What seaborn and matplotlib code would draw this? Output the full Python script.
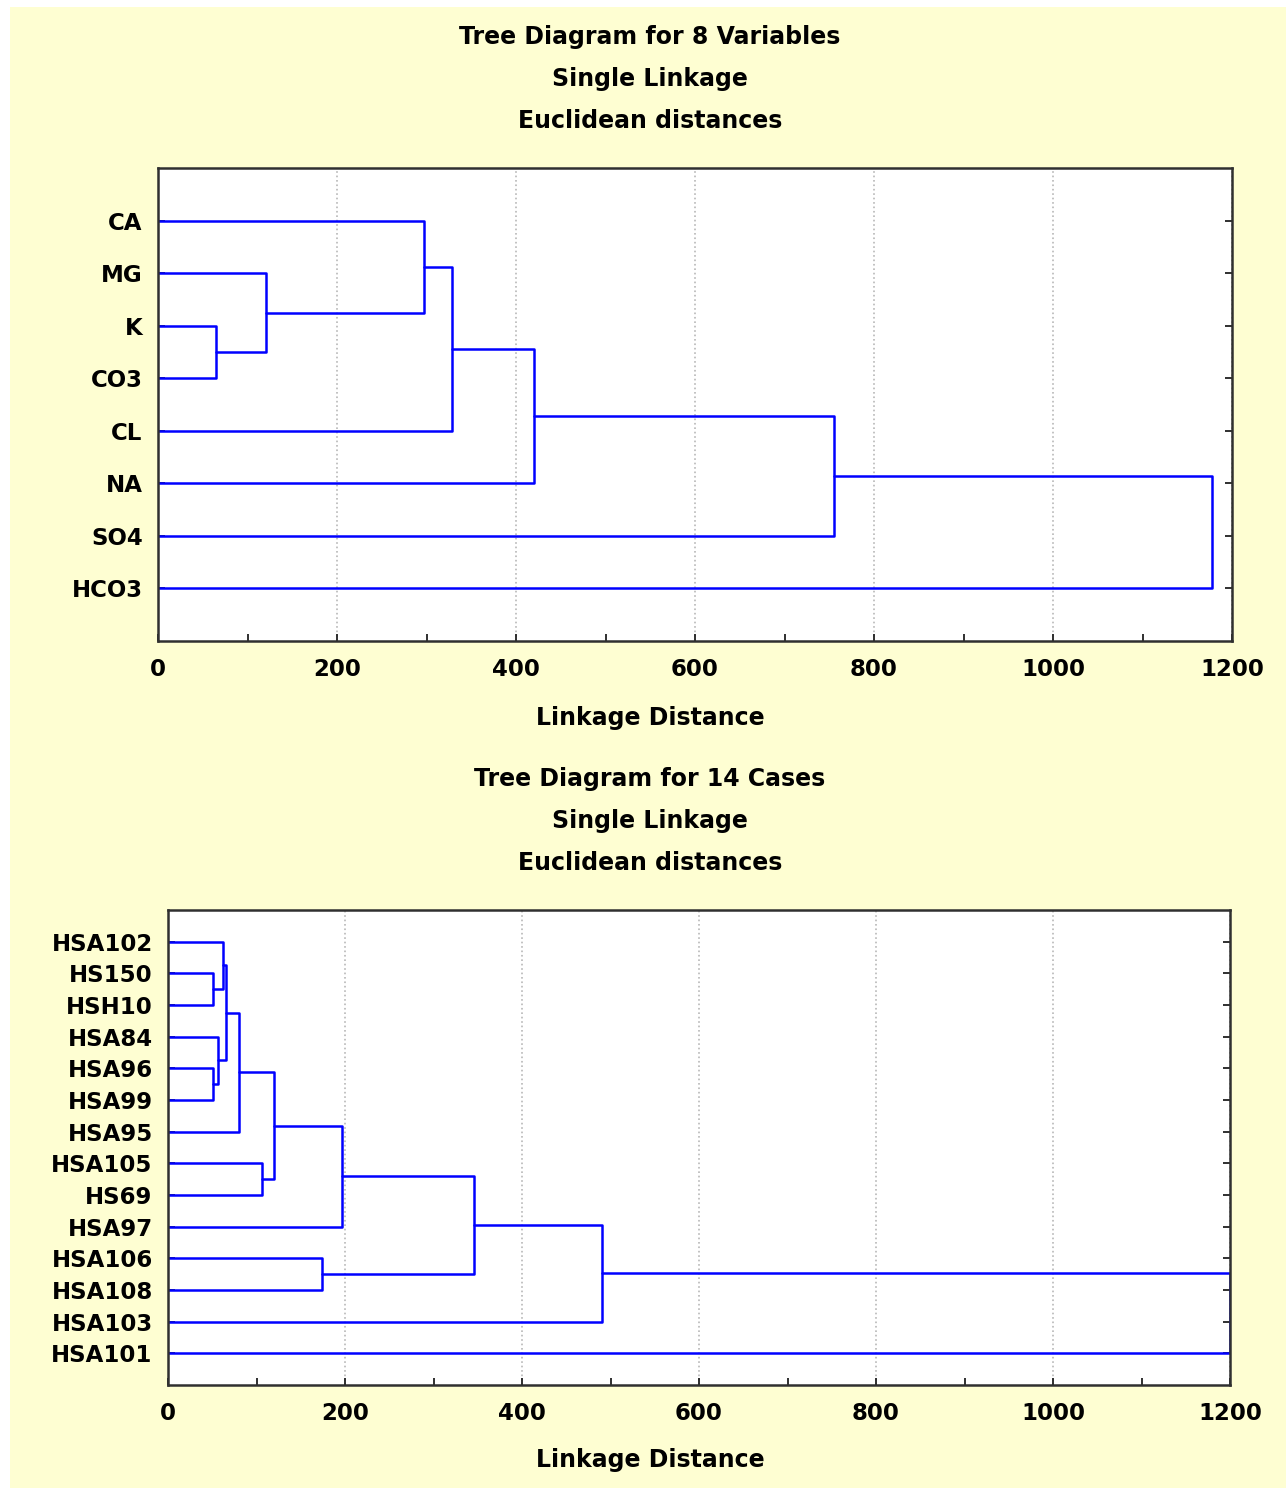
import numpy as np
import pandas as pd
import matplotlib
matplotlib.use("Agg")
import matplotlib.pyplot as plt
from matplotlib.patches import Rectangle
from matplotlib.ticker import MultipleLocator
import seaborn as sns

# ---------------- data ----------------
var_labels = ["CA", "MG", "K", "CO3", "CL", "NA", "SO4", "HCO3"]
var_left = ["K", "MG", "CA", "m2", "m3", "m4", "m5"]
var_right = ["CO3", "m0", "m1", "CL", "NA", "SO4", "HCO3"]
var_height = [65, 121, 297, 328, 420, 755, 1178]

case_labels = ["HSA102", "HS150", "HSH10", "HSA84", "HSA96", "HSA99", "HSA95",
               "HSA105", "HS69", "HSA97", "HSA106", "HSA108", "HSA103", "HSA101"]
case_left = ["HS150", "HSA102", "HSA96", "HSA84", "m1", "m4", "HSA105",
             "m5", "m7", "HSA106", "m8", "m10", "m11"]
case_right = ["HSH10", "m0", "HSA99", "m2", "m3", "HSA95", "HS69",
              "m6", "HSA97", "HSA108", "m9", "HSA103", "HSA101"]
case_height = [51, 62.5, 51, 57, 65.5, 80.5, 106, 120, 196.5, 173.5, 346, 490, 1200]

x_ticks = [0, 200, 400, 600, 800, 1000, 1200]

title_top = ["Tree Diagram for 8 Variables", "Single Linkage", "Euclidean distances"]
title_bot = ["Tree Diagram for 14 Cases", "Single Linkage", "Euclidean distances"]
xlabel = "Linkage Distance"


def dendro_frame(labels, left, right, height):
    pos = {n: i + 1 for i, n in enumerate(labels)}
    hgt = {n: 0.0 for n in labels}
    rows = []
    for k, (a, b, h) in enumerate(zip(left, right, height)):
        ya, yb = pos[a], pos[b]
        ha, hb = hgt[a], hgt[b]
        for o, (x, y) in enumerate(zip([ha, h, h, hb], [ya, ya, yb, yb])):
            rows.append(dict(link=k, order=o, dist=x, pos=y))
        pos[f"m{k}"] = (ya + yb) / 2
        hgt[f"m{k}"] = h
    return pd.DataFrame(rows)


sns.set_style("white")
plt.rcParams["font.family"] = ["DejaVu Sans"]
plt.rcParams["font.weight"] = "bold"
plt.rcParams["text.color"] = "black"
plt.rcParams["xtick.color"] = "black"
plt.rcParams["ytick.color"] = "black"

W, H = 1286, 1488
fig = plt.figure(figsize=(W / 100, H / 100), dpi=100)
fig.patch.set_facecolor("white")
bg = Rectangle((10 / W, 0), 1 - 10 / W, 1 - 7 / H, transform=fig.transFigure,
               facecolor="#fefed2", edgecolor="none", zorder=-10)
fig.patches.append(bg)

FS_T = 17
FS = 16.5


def make_panel(rect, labels, left, right, height, titles, title_ys, xlabel_y):
    ax = fig.add_axes(rect)
    ax.set_facecolor("white")
    df = dendro_frame(labels, left, right, height)
    sns.lineplot(data=df, x="dist", y="pos", units="link", estimator=None,
                 sort=False, color="#0000ff", lw=1.8, ax=ax, legend=False)
    n = len(labels)
    ax.set_xlim(0, 1200)
    ax.set_ylim(n + 1, 0)
    ax.set_xticks(x_ticks)
    ax.set_xticklabels([str(t) for t in x_ticks], fontsize=FS, fontweight="bold")
    ax.xaxis.set_minor_locator(MultipleLocator(100))
    ax.set_yticks(range(1, n + 1))
    ax.set_yticklabels(labels, fontsize=FS, fontweight="bold")
    ax.tick_params(axis="x", which="both", direction="in", length=5, width=1.3,
                   bottom=True, top=False, pad=12, color="#202020")
    ax.tick_params(axis="y", which="major", direction="in", length=5, width=1.3,
                   left=True, right=True, pad=11, color="#202020")
    ax.grid(axis="x", which="major", color="#b8b8b8", linestyle=":", lw=1.2)
    ax.set_axisbelow(True)
    for s in ax.spines.values():
        s.set_color("#303030")
        s.set_linewidth(1.8)
    ax.set_xlabel("")
    ax.set_ylabel("")
    for t, y in zip(titles, title_ys):
        fig.text(650 / W, 1 - y / H, t, ha="center", va="center",
                 fontsize=FS_T, fontweight="bold", color="black")
    fig.text(650 / W, 1 - xlabel_y / H, xlabel, ha="center", va="center",
             fontsize=FS_T, fontweight="bold", color="black")
    return ax


make_panel([158 / W, 1 - 641 / H, 1074 / W, 473 / H], var_labels, var_left,
           var_right, var_height, title_top, [37, 79, 121], 718)
make_panel([168 / W, 1 - 1385 / H, 1062 / W, 475 / H], case_labels, case_left,
           case_right, case_height, title_bot, [779, 821, 863], 1460)

fig.savefig("out.png", dpi=100, facecolor=fig.get_facecolor())
